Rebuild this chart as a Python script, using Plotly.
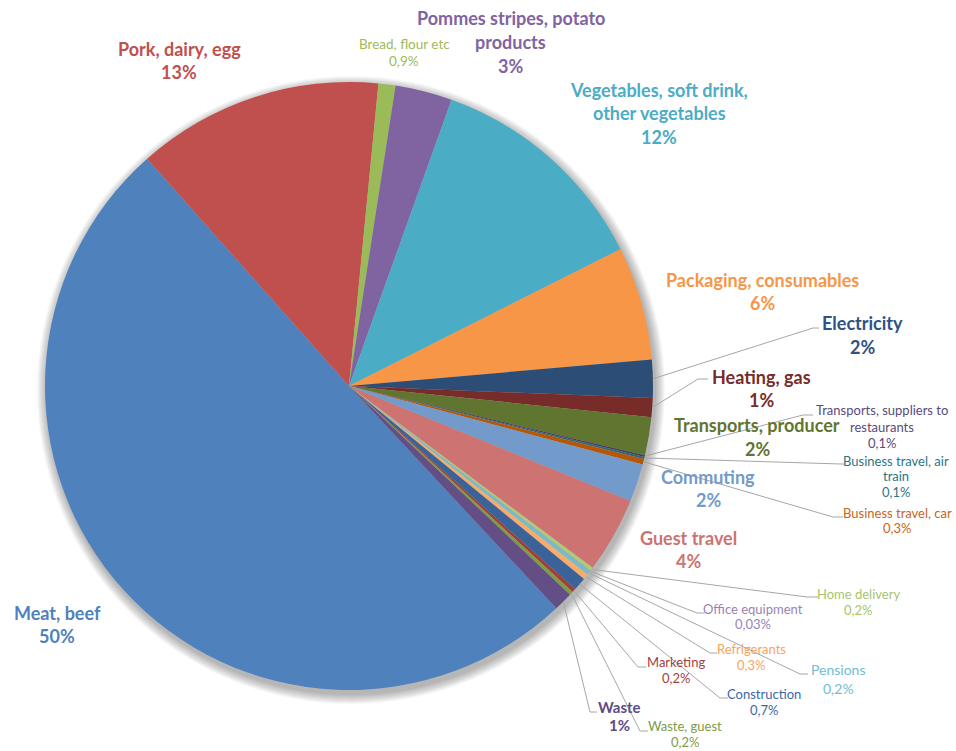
import math
import plotly.graph_objects as go

# Carbon footprint breakdown of a restaurant, by emission source
categories = [
    "Meat, beef", "Pork, dairy, egg", "Bread, flour etc",
    "Pommes stripes, potato products", "Vegetables, soft drink, other vegetables",
    "Packaging, consumables", "Electricity", "Heating, gas", "Transports, producer",
    "Transports, suppliers to restaurants", "Business travel, air train",
    "Business travel, car", "Commuting", "Guest travel", "Home delivery",
    "Office equipment", "Pensions", "Refrigerants", "Construction", "Marketing",
    "Waste, guest", "Waste",
]
values = [50, 13, 0.9, 3, 12, 6, 2, 1, 2, 0.1, 0.1, 0.3, 2, 4, 0.2, 0.03, 0.2, 0.3, 0.7, 0.2, 0.2, 1]
value_text = ["50%", "13%", "0,9%", "3%", "12%", "6%", "2%", "1%", "2%", "0,1%", "0,1%",
              "0,3%", "2%", "4%", "0,2%", "0,03%", "0,2%", "0,3%", "0,7%", "0,2%", "0,2%", "1%"]
slice_colors = [
    "#4F81BD", "#C0504D", "#9BBB59", "#8064A2", "#4BACC6", "#F79646", "#2C4D75",
    "#772C2A", "#5F7530", "#4D3B62", "#276A7C", "#B65708", "#729ACA", "#CD7371",
    "#AFC97A", "#9983B5", "#6FBDD1", "#F9AB6B", "#3A6399", "#9E3F3C", "#7E9C46", "#634E85",
]
label_colors = [
    "#4F81BD", "#C0504D", "#9BBB59", "#8064A2", "#4BACC6", "#F79646", "#2E5283",
    "#772C2A", "#5F7530", "#5A4A7A", "#2C7585", "#C8651A", "#729ACA", "#CD7371",
    "#A7C46E", "#9983B5", "#6FBDD1", "#F7A45E", "#3C68A5", "#A5403D", "#7E9C46", "#5E4A85",
]

W, H = 956, 751
CX, CY, R = 349, 386, 304
ROTATION = 137
FONT = "Lato"
LINE_COLOR = "#A6A6A6"
BIG, SMALL = 18, 13


def to_paper(x, y):
    return x / W, 1 - y / H


fig = go.Figure(go.Pie(
    labels=categories,
    values=values,
    sort=False,
    direction="clockwise",
    rotation=ROTATION,
    marker=dict(colors=slice_colors, line=dict(width=0)),
    textinfo="none",
    hoverinfo="label+percent",
    showlegend=False,
    domain=dict(x=[(CX - R) / W, (CX + R) / W], y=[1 - (CY + R) / H, 1 - (CY - R) / H]),
))

# soft drop shadow under the pie
shapes = []
for k in range(10, 0, -1):
    sx, sy, rr = CX + 2, CY + 4, R + k
    x0, y0 = to_paper(sx - rr, sy + rr)
    x1, y1 = to_paper(sx + rr, sy - rr)
    shapes.append(dict(type="circle", xref="paper", yref="paper", x0=x0, y0=y0, x1=x1, y1=y1,
                       fillcolor="rgba(0,0,0,0.032)", line=dict(width=0), layer="below"))

# label placement: wrapped name, centre x, y of each line, font size, bold, leader (elbow, end)
label_layout = {
    "Meat, beef": (["Meat, beef"], 57, [613, 636], BIG, True, None),
    "Pork, dairy, egg": (["Pork, dairy, egg"], 179, [49, 72], BIG, True, None),
    "Bread, flour etc": (["Bread, flour etc"], 404, [44, 61], 13.5, False, None),
    "Pommes stripes, potato products": (["Pommes stripes, potato", "products"], 511, [18, 42, 66], BIG, True, None),
    "Vegetables, soft drink, other vegetables": (["Vegetables, soft drink,", "other vegetables"], 659, [90, 113, 137], BIG, True, None),
    "Packaging, consumables": (["Packaging, consumables"], 762, [280, 303], BIG, True, None),
    "Electricity": (["Electricity"], 862, [323, 347], BIG, True, ((813, 328), (819, 328))),
    "Heating, gas": (["Heating, gas"], 761, [377, 400], BIG, True, ((698, 379), (708, 379))),
    "Transports, producer": (["Transports, producer"], 757, [425, 449], BIG, True, None),
    "Transports, suppliers to restaurants": (["Transports, suppliers to", "restaurants"], 882, [410, 427, 443], SMALL, False, ((803, 415), (813, 415))),
    "Business travel, air train": (["Business travel, air", "train"], 896, [461, 476, 492], SMALL, False, ((841, 464), (845, 464))),
    "Business travel, car": (["Business travel, car"], 897, [513, 528], SMALL, False, ((833, 517), (843, 517))),
    "Commuting": (["Commuting"], 708, [477, 500], BIG, True, None),
    "Guest travel": (["Guest travel"], 688, [538, 561], BIG, True, None),
    "Home delivery": (["Home delivery"], 858, [594, 610], SMALL, False, ((807, 597), (818, 597))),
    "Office equipment": (["Office equipment"], 753, [609, 624], SMALL, False, ((697, 613), (705, 613))),
    "Pensions": (["Pensions"], 838, [669, 688], 14, False, ((800, 674), (808, 674))),
    "Refrigerants": (["Refrigerants"], 751, [649, 665], SMALL, False, ((710, 653), (717, 653))),
    "Construction": (["Construction"], 764, [694, 710], SMALL, False, ((720, 698), (728, 698))),
    "Marketing": (["Marketing"], 676, [662, 678], SMALL, False, ((638, 667), (646, 667))),
    "Waste, guest": (["Waste, guest"], 685, [726, 742], SMALL, False, ((640, 731), (648, 731))),
    "Waste": (["Waste"], 619, [707, 725], 15, True, ((590, 712), (597, 712))),
}

total = sum(values)
annotations = []
cum = 0.0
for name, v, vt, col in zip(categories, values, value_text, label_colors):
    mid = math.radians(ROTATION + (cum + v / 2) / total * 360)
    cum += v
    lines, lx, ys, size, bold, leader = label_layout[name]
    for text, ly in zip(lines + [vt], ys):
        ax, ay = to_paper(lx, ly)
        annotations.append(dict(
            x=ax, y=ay, xref="paper", yref="paper", showarrow=False,
            xanchor="center", yanchor="middle",
            text=f"<b>{text}</b>" if bold else text,
            font=dict(family=FONT, size=size, color=col),
        ))
    if leader:
        sx, sy = CX + R * math.sin(mid), CY - R * math.cos(mid)
        pts = [to_paper(sx, sy), to_paper(*leader[0]), to_paper(*leader[1])]
        path = "M {} {} L {} {} L {} {}".format(*[c for p in pts for c in p])
        shapes.append(dict(type="path", xref="paper", yref="paper", path=path,
                           line=dict(color=LINE_COLOR, width=1), layer="above"))

fig.update_layout(
    width=W, height=H,
    margin=dict(l=0, r=0, t=0, b=0),
    paper_bgcolor="white",
    plot_bgcolor="white",
    shapes=shapes,
    annotations=annotations,
)

fig.write_html("out.html")
